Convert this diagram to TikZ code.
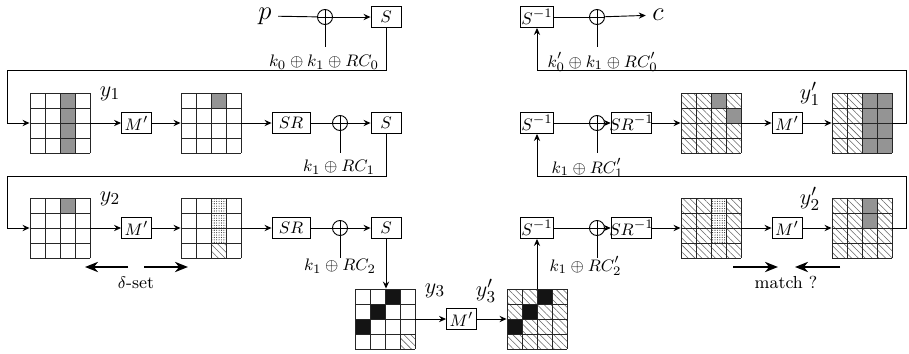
\documentclass[tikz,border=0pt]{standalone}
\usetikzlibrary{arrows.meta,patterns.meta}
\newcommand\stategrid[4]{%
  \node[gridnode] (#1) at ({#2+30},{#3+30}) {};
  \foreach \cs [count=\ci from 0] in {#4} {
    \pgfmathtruncatemacro\cc{mod(\ci,4)}
    \pgfmathtruncatemacro\rr{\ci/4}
    \path[cell\cs] ({#2+15*\cc},{#3+15*\rr}) rectangle ++(15,15);
  }
  \foreach \k in {0,...,4} {
    \draw[gridline] ({#2+15*\k},#3) -- ({#2+15*\k},{#3+60});
    \draw[gridline] (#2,{#3+15*\k}) -- ({#2+60},{#3+15*\k});
  }
}
\begin{document}
\begin{tikzpicture}[x=0.54pt,y=-0.54pt, line width=0.5pt,
  font=\fontsize{9.4pt}{11pt}\selectfont,
  arr/.style={-{Stealth[length=3.8pt,width=3.4pt,inset=1.3pt]}},
  bigarr/.style={line width=1.5pt,-{Stealth[length=7pt,width=5.5pt,inset=2.2pt]}},
  opbox/.style={draw, rectangle, minimum width=30*0.54pt, minimum height=21*0.54pt, inner sep=0.5pt},
  srinv/.style={opbox, minimum width=39*0.54pt, inner xsep=-1pt},
  xorn/.style={circle, draw, minimum size=15*0.54pt, inner sep=0pt,
    path picture={\draw (path picture bounding box.north) -- (path picture bounding box.south)
      (path picture bounding box.west) -- (path picture bounding box.east);}},
  gridnode/.style={rectangle, minimum size=60*0.54pt, inner sep=0pt},
  gridline/.style={black!85, line width=0.5pt},
  cellW/.style={},
  cellG/.style={fill=black!42},
  cellB/.style={fill=black!92},
  cellH/.style={pattern={Lines[angle=-45,distance=2.6pt,line width=0.3pt]}, pattern color=black!60},
  cellD/.style={pattern={Dots[distance=1.3pt,radius=0.3pt]}, pattern color=black!85},
  ylab/.style={font=\fontsize{13pt}{15pt}\selectfont},
  biglab/.style={font=\Large},
]
\useasboundingbox (0,0) rectangle (909,353);

% ---------- row 0 left ----------
\node[biglab] (p) at (265,16) {$p$};
\node[xorn] (x0) at (325,17) {};
\node[opbox] (s0) at (386,17) {$S$};
\draw (p) -- (x0);
\draw[arr] (x0) -- (s0);
\coordinate (k0e) at (325,47);
\draw (x0.south) -- (k0e);
\node (k0lab) at (324,62) {$k_0\oplus k_1\oplus RC_0$};
\coordinate (t0) at (7,70);

% ---------- row 0 right ----------
\node[opbox] (sp0) at (537,17) {$S^{-1}$};
\node[xorn] (xp0) at (597,17) {};
\node[biglab] (c) at (658,15) {$c$};
\draw (sp0) -- (xp0);
\draw[arr] (xp0) -- (c);
\coordinate (kp0e) at (597,47);
\draw (xp0.south) -- (kp0e);
\node[anchor=west] (kp0lab) at (541,62) {$k_0'\oplus k_1\oplus RC_0'$};
\coordinate (u0) at (906,70);

% ---------- row 1 left ----------
\stategrid{gA1}{30}{93}{W,W,G,W,W,W,G,W,W,W,G,W,W,W,G,W}
\node[ylab] (ly1) at (110,94) {$y_1$};
\node[opbox] (m1) at (136.5,123) {$M'$};
\stategrid{gB1}{181}{93}{W,W,G,W,W,W,W,W,W,W,W,W,W,W,W,W}
\node[opbox, minimum width=38*0.54pt] (sr1) at (291,123) {$SR$};
\node[xorn] (x1) at (340,123) {};
\node[opbox] (s1) at (386,123) {$S$};
\draw[arr] (s0.south) |- (t0) |- (gA1.west);
\draw[arr] (gA1) -- (m1);
\draw[arr] (m1) -- (gB1);
\draw[arr] (gB1) -- (sr1);
\draw (sr1) -- (x1);
\draw[arr] (x1) -- (s1);
\coordinate (k1e) at (340,153);
\draw (x1.south) -- (k1e);
\node (k1lab) at (339,167) {$k_1\oplus RC_1$};
\coordinate (t1) at (7,176);

% ---------- row 1 right ----------
\node[opbox] (sp1) at (537,123) {$S^{-1}$};
\node[xorn] (xp1) at (597,123) {};
\node[srinv] (srp1) at (631.5,123) {$SR^{-1}$};
\stategrid{gAp1}{681}{93}{H,H,G,H,H,H,H,G,H,H,H,H,H,H,H,H}
\node[opbox] (mp1) at (787,123) {$M'$};
\stategrid{gY1p}{832}{93}{H,H,G,G,H,H,G,G,H,H,G,G,H,H,G,G}
\node[ylab] (ly1p) at (810,94) {$y_1'$};
\draw (sp1) -- (xp1);
\draw[arr] (xp1) -- (srp1);
\draw[arr] (srp1) -- (gAp1);
\draw[arr] (gAp1) -- (mp1);
\draw[arr] (mp1) -- (gY1p);
\draw[arr] (gY1p.east) -| (u0) -| (sp0.south);
\coordinate (kp1e) at (597,153);
\draw (xp1.south) -- (kp1e);
\node[anchor=west] (kp1lab) at (545,168) {$k_1\oplus RC_1'$};
\coordinate (u1) at (906,176);

% ---------- row 2 left ----------
\stategrid{gA2}{30}{198}{W,W,G,W,W,W,W,W,W,W,W,W,W,W,W,W}
\node[ylab] (ly2) at (110,199) {$y_2$};
\node[opbox] (m2) at (136.5,228) {$M'$};
\stategrid{gB2}{181}{198}{W,W,D,W,W,W,D,W,W,W,D,W,W,W,H,W}
\node[opbox, minimum width=38*0.54pt] (sr2) at (291,228) {$SR$};
\node[xorn] (x2) at (340,228) {};
\node[opbox] (s2) at (386,228) {$S$};
\draw[arr] (s1.south) |- (t1) |- (gA2.west);
\draw[arr] (gA2) -- (m2);
\draw[arr] (m2) -- (gB2);
\draw[arr] (gB2) -- (sr2);
\draw (sr2) -- (x2);
\draw[arr] (x2) -- (s2);
\coordinate (k2e) at (340,258);
\draw (x2.south) -- (k2e);
\node (k2lab) at (340,266) {$k_1\oplus RC_2$};

% ---------- row 2 right ----------
\node[opbox] (sp2) at (537,228) {$S^{-1}$};
\node[xorn] (xp2) at (597,228) {};
\node[srinv] (srp2) at (631.5,228) {$SR^{-1}$};
\stategrid{gAp2}{681}{198}{H,H,D,H,H,H,D,H,H,H,D,H,H,H,H,H}
\node[opbox] (mp2) at (787,228) {$M'$};
\stategrid{gY2p}{832}{198}{H,H,G,H,H,H,G,H,H,H,H,H,H,H,H,H}
\node[ylab] (ly2p) at (810,199) {$y_2'$};
\draw (sp2) -- (xp2);
\draw[arr] (xp2) -- (srp2);
\draw[arr] (srp2) -- (gAp2);
\draw[arr] (gAp2) -- (mp2);
\draw[arr] (mp2) -- (gY2p);
\draw[arr] (gY2p.east) -| (u1) -| (sp1.south);
\coordinate (kp2e) at (597,258);
\draw (xp2.south) -- (kp2e);
\node[anchor=west] (kp2lab) at (543,266) {$k_1\oplus RC_2'$};

% ---------- row 3 ----------
\stategrid{gY3}{355}{289}{W,W,B,W,W,B,W,W,B,W,W,W,W,W,W,H}
\node[ylab] (ly3) at (435,291) {$y_3$};
\node[opbox] (m3) at (461.5,319) {$M'$};
\stategrid{gY3p}{507}{289}{H,H,B,H,H,B,H,H,B,H,H,H,H,H,H,H}
\node[ylab] (ly3p) at (486,291) {$y_3'$};
\draw[arr] (s2.south) -- (s2.south |- gY3.north);
\draw[arr] (gY3) -- (m3);
\draw[arr] (m3) -- (gY3p);
\draw[arr] (gY3p.north) -- (sp2.south);

% ---------- delta-set and match ----------
\coordinate (da) at (128,267); \coordinate (db) at (85,267);
\coordinate (dc) at (144,267); \coordinate (dd) at (188,267);
\draw[bigarr] (da) -- (db);
\draw[bigarr] (dc) -- (dd);
\node (dset) at (136,283) {$\delta$-set};
\coordinate (ma) at (733,267); \coordinate (mb) at (778,267);
\coordinate (mc) at (840,267); \coordinate (md) at (795,267);
\draw[bigarr] (ma) -- (mb);
\draw[bigarr] (mc) -- (md);
\node (match) at (786,282) {match ?};
\end{tikzpicture}
\end{document}
